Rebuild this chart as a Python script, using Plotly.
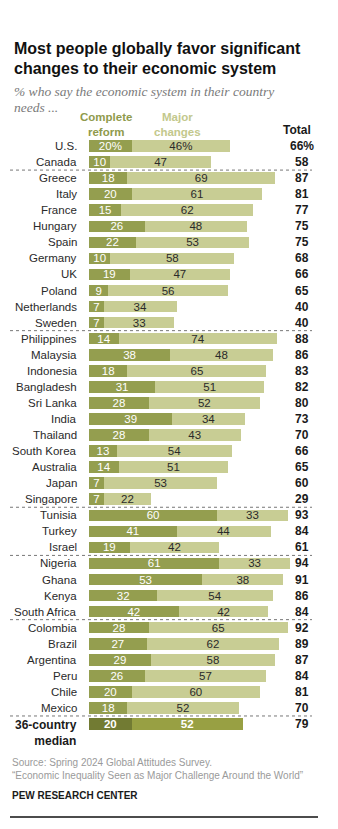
import plotly.graph_objects as go

countries = ["U.S.", "Canada", "Greece", "Italy", "France", "Hungary", "Spain", "Germany", "UK",
             "Poland", "Netherlands", "Sweden", "Philippines", "Malaysia", "Indonesia", "Bangladesh",
             "Sri Lanka", "India", "Thailand", "South Korea", "Australia", "Japan", "Singapore",
             "Tunisia", "Turkey", "Israel", "Nigeria", "Ghana", "Kenya", "South Africa",
             "Colombia", "Brazil", "Argentina", "Peru", "Chile", "Mexico", "36-country median"]
complete = [20, 10, 18, 20, 15, 26, 22, 10, 19, 9, 7, 7, 14, 38, 18, 31, 28, 39, 28, 13, 14, 7, 7,
            60, 41, 19, 61, 53, 32, 42, 28, 27, 29, 26, 20, 18, 20]
major = [46, 47, 69, 61, 62, 48, 53, 58, 47, 56, 34, 33, 74, 48, 65, 51, 52, 34, 43, 54, 51, 53, 22,
         33, 44, 42, 33, 38, 54, 42, 65, 62, 58, 57, 60, 52, 52]
totals = [66, 58, 87, 81, 77, 75, 75, 68, 66, 65, 40, 40, 88, 86, 83, 82, 80, 73, 70, 66, 65, 60, 29,
          93, 84, 61, 94, 91, 86, 84, 92, 89, 87, 84, 81, 70, 79]
group_ends = ["Canada", "Sweden", "Singapore", "Israel", "South Africa", "Mexico"]

W, H = 338, 829
FONT = "Liberation Sans"
C_DARK = "#949e4f"
C_LIGHT = "#c8cd94"
M_DARK = "#727b33"
M_LIGHT = "#98a043"

n = len(countries)
median_idx = n - 1

# pixel geometry
x0_px = 89.0
px_per_unit = 2.136
first_row_px = 146.0
last_row_px = 724.0
pitch = (last_row_px - first_row_px) / (n - 1)
top_px = first_row_px - pitch / 2
bot_px = top_px + n * pitch


def py(px):
    return 1 - px / H


def fmt(v, i, pct):
    s = f"{v}%" if (i == 0 and pct) else f"{v}"
    return f"<b>{s}</b>" if i == median_idx else s


c_text = [fmt(v, i, True) for i, v in enumerate(complete)]
m_text = [fmt(v, i, True) for i, v in enumerate(major)]
c_colors = [M_DARK if i == median_idx else C_DARK for i in range(n)]
m_colors = [M_LIGHT if i == median_idx else C_LIGHT for i in range(n)]
m_tcolors = ["#ffffff" if i == median_idx else "#2a2a2a" for i in range(n)]

fig = go.Figure()
fig.add_trace(go.Bar(
    y=countries, x=complete, orientation="h", marker=dict(color=c_colors, line=dict(width=0)),
    text=c_text, textposition="inside", insidetextanchor="middle", constraintext="none",
    textfont=dict(family=FONT, size=11.5, color="#ffffff"), hoverinfo="skip", textangle=0,
))
fig.add_trace(go.Bar(
    y=countries, x=major, orientation="h", marker=dict(color=m_colors, line=dict(width=0)),
    text=m_text, textposition="inside", insidetextanchor="middle", constraintext="none",
    textfont=dict(family=FONT, size=11.5, color=m_tcolors), hoverinfo="skip", textangle=0,
))

annotations = []
# country labels
for i, c in enumerate(countries):
    if i == median_idx:
        annotations.append(dict(text="<b>36-country<br>median</b>", x=78.5 / W, xref="paper",
                                y=c, yref="y", xanchor="right", yanchor="top", yshift=8,
                                align="right", showarrow=False,
                                font=dict(family=FONT, size=12, color="#1a1a1a")))
    else:
        annotations.append(dict(text=c, x=78.5 / W, xref="paper", y=c, yref="y",
                                xanchor="right", yanchor="middle", showarrow=False,
                                font=dict(family=FONT, size=11.5, color="#2a2a2a")))
    t = f"{totals[i]}%" if i == 0 else f"{totals[i]}"
    annotations.append(dict(text=f"<b>{t}</b>", x=302 / W, xref="paper", y=c, yref="y",
                            xanchor="center", yanchor="middle", showarrow=False,
                            font=dict(family=FONT, size=12, color="#1a1a1a")))

# title, subtitle
annotations += [
    dict(text="<b>Most people globally favor significant</b>", x=12 / W, y=py(49), xref="paper",
         yref="paper", xanchor="left", yanchor="middle", showarrow=False,
         font=dict(family=FONT, size=16, color="#111111")),
    dict(text="<b>changes to their economic system</b>", x=12 / W, y=py(68.5), xref="paper",
         yref="paper", xanchor="left", yanchor="middle", showarrow=False,
         font=dict(family=FONT, size=16, color="#111111")),
    dict(text="<i>% who say the economic system in their country</i>", x=12 / W, y=py(91.5),
         xref="paper", yref="paper", xanchor="left", yanchor="middle", showarrow=False,
         font=dict(family="Liberation Serif", size=13.5, color="#7a7a7a")),
    dict(text="<i>needs ...</i>", x=12 / W, y=py(107), xref="paper", yref="paper",
         xanchor="left", yanchor="middle", showarrow=False,
         font=dict(family="Liberation Serif", size=13.5, color="#7a7a7a")),
    dict(text="<b>Complete<br>reform</b>", x=106 / W, y=py(124), xref="paper", yref="paper",
         xanchor="center", yanchor="middle", showarrow=False, align="center",
         font=dict(family=FONT, size=11.5, color="#8f9a4c")),
    dict(text="<b>Major<br>changes</b>", x=177 / W, y=py(124), xref="paper", yref="paper",
         xanchor="center", yanchor="middle", showarrow=False, align="center",
         font=dict(family=FONT, size=11.5, color="#c3c88c")),
    dict(text="<b>Total</b>", x=297 / W, y=py(130), xref="paper", yref="paper",
         xanchor="center", yanchor="middle", showarrow=False,
         font=dict(family=FONT, size=12, color="#1a1a1a")),
    dict(text="Source: Spring 2024 Global Attitudes Survey.", x=10 / W, y=py(762), xref="paper",
         yref="paper", xanchor="left", yanchor="middle", showarrow=False,
         font=dict(family=FONT, size=10, color="#9a9a9a")),
    dict(text="\u201cEconomic Inequality Seen as Major Challenge Around the World\u201d", x=10 / W,
         y=py(775.5), xref="paper", yref="paper", xanchor="left", yanchor="middle",
         showarrow=False, font=dict(family=FONT, size=10, color="#9a9a9a")),
    dict(text="<b>PEW RESEARCH CENTER</b>", x=10 / W, y=py(795), xref="paper", yref="paper",
         xanchor="left", yanchor="middle", showarrow=False,
         font=dict(family=FONT, size=10, color="#1a1a1a")),
]

shapes = []
for g in group_ends:
    k = countries.index(g)
    shapes.append(dict(type="line", xref="paper", yref="y", x0=10 / W, x1=312 / W,
                       y0=k + 0.5, y1=k + 0.5, line=dict(color="#777777", width=1, dash="dot")))
shapes.append(dict(type="line", xref="paper", yref="paper", x0=10 / W, x1=318 / W,
                   y0=py(817), y1=py(817), line=dict(color="#111111", width=1.5)))

fig.update_layout(
    width=W, height=H, autosize=False, barmode="stack", bargap=0.28,
    margin=dict(l=0, r=0, t=0, b=0), paper_bgcolor="white", plot_bgcolor="white",
    showlegend=False, annotations=annotations, shapes=shapes,
    xaxis=dict(range=[-x0_px / px_per_unit, (W - x0_px) / px_per_unit], domain=[0, 1],
               showgrid=False, zeroline=False, showticklabels=False, fixedrange=True),
    yaxis=dict(type="category", categoryorder="array", categoryarray=countries,
               range=[n - 0.5, -0.5], domain=[py(bot_px), py(top_px)], showgrid=False,
               zeroline=False, showticklabels=False, fixedrange=True),
)

fig.write_html("out.html")
